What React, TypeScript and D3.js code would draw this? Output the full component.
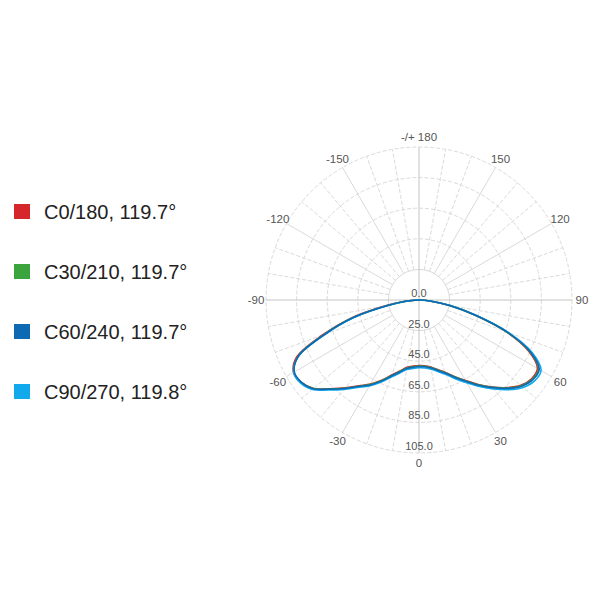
import React, { useEffect, useRef } from 'react';
import * as d3 from 'd3';

// gamma angles (deg), 0 = straight down, negative = left half
const angles = [
  -90, -85, -80, -75, -70, -65, -60, -55, -50, -45, -40, -35, -30, -25, -20, -15, -10, -5,
  0, 5, 10, 15, 20, 25, 30, 35, 40, 45, 50, 55, 60, 65, 70, 75, 80, 85, 90,
];

const c0 = [
  1.0, 11.2, 27.8, 51.4, 72.4, 93.2, 99.7, 99.0, 95.0, 87.0, 80.0, 73.4, 68.4, 62.8, 57.2, 53.0, 49.7, 48.4,
  47.8, 48.1, 49.5, 52.1, 55.4, 60.3, 65.8, 72.4, 79.2, 86.0, 91.8, 94.8, 94.4, 84.0, 65.6, 42.4, 25.0, 8.8, 0.8,
];
const c30 = [
  0.9, 10.2, 26.5, 50.0, 71.0, 92.2, 99.3, 98.9, 95.1, 87.3, 80.3, 73.8, 68.8, 63.2, 57.6, 53.4, 50.1, 48.8,
  48.2, 48.5, 49.8, 52.4, 55.7, 60.6, 66.1, 72.7, 79.5, 86.4, 92.2, 95.3, 95.2, 85.0, 66.1, 42.7, 25.2, 8.9, 0.8,
];
const c60 = [
  0.8, 9.8, 25.9, 49.4, 70.4, 91.9, 99.1, 98.8, 95.2, 87.4, 80.5, 74.0, 69.1, 63.5, 57.9, 53.7, 50.4, 49.1,
  48.5, 48.8, 50.1, 52.7, 56.0, 60.9, 66.4, 73.0, 79.8, 86.7, 92.6, 95.8, 95.7, 85.4, 66.4, 42.9, 25.3, 9.0, 0.8,
];
const c90 = [
  0.7, 9.5, 25.5, 49.0, 70.0, 91.8, 99.6, 99.6, 96.0, 88.2, 81.3, 74.8, 69.9, 64.3, 58.7, 54.5, 51.2, 49.9,
  49.3, 49.6, 50.9, 53.5, 56.9, 61.9, 67.4, 74.0, 80.9, 87.9, 93.9, 97.2, 97.1, 86.7, 67.4, 43.6, 25.8, 9.2, 0.8,
];

const seriesNames = ['C0/180, 119.7°', 'C30/210, 119.7°', 'C60/240, 119.7°', 'C90/270, 119.8°'];
const seriesColors = ['#d4262b', '#3ca43f', '#0c69b2', '#12a8ec'];
const seriesValues = [c0, c30, c60, c90];

const ringValues = [0, 25, 45, 65, 85, 105];
const ringLabels = ['0.0', '25.0', '45.0', '65.0', '85.0', '105.0'];
const angleTicks = [0, 30, 60, 90, 120, 150, 180, -150, -120, -90, -60, -30];
const angleTickLabels = ['0', '30', '60', '90', '120', '150', '-/+ 180', '-150', '-120', '-90', '-60', '-30'];

const App = () => {
  const svgRef = useRef(null);

  useEffect(() => {
    const svg = d3.select(svgRef.current);
    svg.selectAll('*').remove();

    const cx = 419;
    const cy = 300;
    const R = 153;

    // rings are evenly spaced although their labels are not
    const r = d3.scaleLinear()
      .domain(ringValues)
      .range(ringValues.map((_, i) => (i * R) / (ringValues.length - 1)));

    const toRad = (deg) => (deg * Math.PI) / 180;
    const px = (deg, rad) => cx + rad * Math.sin(toRad(deg));
    const py = (deg, rad) => cy + rad * Math.cos(toRad(deg));

    const g = svg.append('g');

    // rings
    g.selectAll('.ring')
      .data(ringValues.slice(1))
      .join('circle')
      .attr('cx', cx)
      .attr('cy', cy)
      .attr('r', d => r(d))
      .attr('fill', 'none')
      .attr('stroke', '#dadada')
      .attr('stroke-width', 1)
      .attr('stroke-dasharray', (d, i) => (i === 0 ? null : '4,2'));

    // spokes
    const spokes = d3.range(-170, 190, 10).filter(a => a % 90 !== 0);
    g.selectAll('.spoke')
      .data(spokes)
      .join('line')
      .attr('x1', d => px(d, r(ringValues[1])))
      .attr('y1', d => py(d, r(ringValues[1])))
      .attr('x2', d => px(d, R))
      .attr('y2', d => py(d, R))
      .attr('stroke', '#dadada')
      .attr('stroke-width', 1)
      .attr('stroke-dasharray', d => (d % 30 === 0 ? null : '4,2'));

    // main axes
    g.selectAll('.axis')
      .data([0, 90])
      .join('line')
      .attr('x1', d => px(d, R))
      .attr('y1', d => py(d, R))
      .attr('x2', d => px(d + 180, R))
      .attr('y2', d => py(d + 180, R))
      .attr('stroke', '#c4c4c4')
      .attr('stroke-width', 1);

    // angle labels
    g.selectAll('.alabel')
      .data(angleTicks)
      .join('text')
      .attr('x', d => px(d, R + 10))
      .attr('y', d => py(d, R + 10))
      .attr('text-anchor', 'middle')
      .attr('dominant-baseline', 'central')
      .attr('font-family', 'Arial, "Liberation Sans", sans-serif')
      .attr('font-size', 11.5)
      .attr('fill', '#555')
      .text((d, i) => angleTickLabels[i]);

    // curves
    const line = d3.lineRadial()
      .angle(d => Math.PI - toRad(d[0]))
      .radius(d => r(d[1]))
      .curve(d3.curveCatmullRomClosed);

    g.append('g')
      .attr('transform', `translate(${cx},${cy})`)
      .selectAll('path')
      .data([0, 1, 3, 2])
      .join('path')
      .attr('d', k => line(angles.map((a, i) => [a, seriesValues[k][i]])))
      .attr('fill', 'none')
      .attr('stroke', k => seriesColors[k])
      .attr('stroke-width', 1.6)
      .attr('stroke-linejoin', 'round');

    // ring labels
    g.selectAll('.rlabel')
      .data(ringValues)
      .join('text')
      .attr('x', cx)
      .attr('y', d => cy + r(d) - 3)
      .attr('text-anchor', 'middle')
      .attr('font-family', 'Arial, "Liberation Sans", sans-serif')
      .attr('font-size', 11)
      .attr('fill', '#555')
      .text((d, i) => ringLabels[i]);

    // legend
    const legend = svg.append('g')
      .selectAll('g')
      .data(seriesNames)
      .join('g')
      .attr('transform', (d, i) => `translate(14,${212 + i * 60})`);

    legend.append('rect')
      .attr('x', 0)
      .attr('y', -8)
      .attr('width', 16)
      .attr('height', 15)
      .attr('fill', (d, i) => seriesColors[i]);

    legend.append('text')
      .attr('x', 30)
      .attr('y', 0)
      .attr('dominant-baseline', 'central')
      .attr('font-family', 'Arial, "Liberation Sans", sans-serif')
      .attr('font-size', 20)
      .attr('fill', '#222')
      .text(d => d);
  }, []);

  return (
    <svg
      ref={svgRef}
      width={600}
      height={600}
      style={{ position: 'absolute', left: 0, top: 0, background: '#fff' }}
    />
  );
};

export default App;
